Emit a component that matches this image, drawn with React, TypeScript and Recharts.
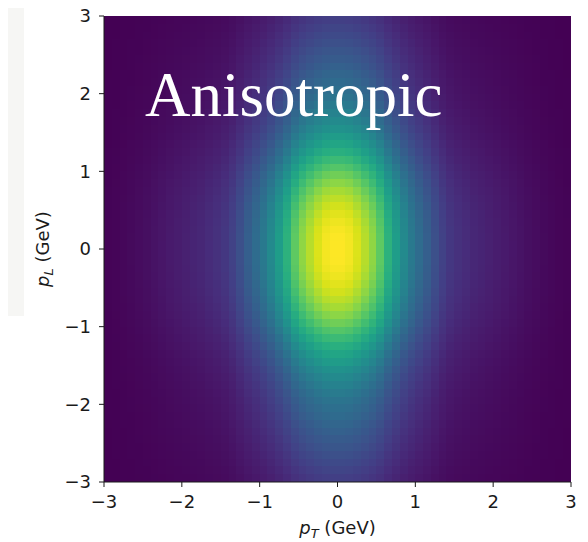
import React from 'react';
import { BarChart, Bar, XAxis, YAxis, Label } from 'recharts';

// Cell centres along p_T (GeV)
const pTCenters = [
  -2.95, -2.85, -2.75, -2.65, -2.55, -2.45, -2.35, -2.25, -2.15, -2.05,
  -1.95, -1.85, -1.75, -1.65, -1.55, -1.45, -1.35, -1.25, -1.15, -1.05,
  -0.95, -0.85, -0.75, -0.65, -0.55, -0.45, -0.35, -0.25, -0.15, -0.05,
  0.05, 0.15, 0.25, 0.35, 0.45, 0.55, 0.65, 0.75, 0.85, 0.95,
  1.05, 1.15, 1.25, 1.35, 1.45, 1.55, 1.65, 1.75, 1.85, 1.95,
  2.05, 2.15, 2.25, 2.35, 2.45, 2.55, 2.65, 2.75, 2.85, 2.95,
];

// Cell centres along p_L (GeV)
const pLCenters = [
  -2.95, -2.85, -2.75, -2.65, -2.55, -2.45, -2.35, -2.25, -2.15, -2.05,
  -1.95, -1.85, -1.75, -1.65, -1.55, -1.45, -1.35, -1.25, -1.15, -1.05,
  -0.95, -0.85, -0.75, -0.65, -0.55, -0.45, -0.35, -0.25, -0.15, -0.05,
  0.05, 0.15, 0.25, 0.35, 0.45, 0.55, 0.65, 0.75, 0.85, 0.95,
  1.05, 1.15, 1.25, 1.35, 1.45, 1.55, 1.65, 1.75, 1.85, 1.95,
  2.05, 2.15, 2.25, 2.35, 2.45, 2.55, 2.65, 2.75, 2.85, 2.95,
];

// Relative intensity profile read along p_T (at p_L = 0)
const pTProfile = [
  0.01, 0.014, 0.019, 0.025, 0.032, 0.04, 0.05, 0.06, 0.07, 0.08,
  0.09, 0.10, 0.11, 0.125, 0.14, 0.16, 0.195, 0.245, 0.30, 0.35,
  0.405, 0.47, 0.55, 0.64, 0.75, 0.83, 0.89, 0.945, 0.985, 1.0,
  1.0, 0.985, 0.945, 0.89, 0.83, 0.75, 0.64, 0.55, 0.47, 0.405,
  0.35, 0.30, 0.245, 0.195, 0.16, 0.14, 0.125, 0.11, 0.10, 0.09,
  0.08, 0.07, 0.06, 0.05, 0.04, 0.032, 0.025, 0.019, 0.014, 0.01,
];

// Relative intensity profile read along p_L (at p_T = 0)
const pLProfile = [
  0.185, 0.205, 0.225, 0.245, 0.265, 0.285, 0.305, 0.325, 0.345, 0.365,
  0.385, 0.41, 0.44, 0.47, 0.505, 0.545, 0.585, 0.63, 0.68, 0.73,
  0.78, 0.825, 0.865, 0.9, 0.93, 0.955, 0.975, 0.99, 0.998, 1.0,
  1.0, 0.998, 0.99, 0.975, 0.955, 0.93, 0.9, 0.865, 0.825, 0.78,
  0.73, 0.68, 0.63, 0.585, 0.545, 0.505, 0.47, 0.44, 0.41, 0.385,
  0.365, 0.345, 0.325, 0.305, 0.285, 0.265, 0.245, 0.225, 0.205, 0.185,
];

const axisTicks = [-3, -2, -1, 0, 1, 2, 3];
const axisDomain: [number, number] = [-3, 3];
const cellHeight = 0.1;
const titleText = 'Anisotropic';

const viridisStops = [
  '#440154', '#48186a', '#472d7b', '#424086', '#3b528b', '#33638d',
  '#2c728e', '#26828e', '#21918c', '#1fa088', '#28ae80', '#3fbc73',
  '#5ec962', '#84d44b', '#addc30', '#d8e219', '#fde725',
];

function hexToRgb(h: string) {
  return [parseInt(h.slice(1, 3), 16), parseInt(h.slice(3, 5), 16), parseInt(h.slice(5, 7), 16)];
}
const stopRgb = viridisStops.map(hexToRgb);

function viridis(t: number) {
  const c = Math.max(0, Math.min(1, t)) * (stopRgb.length - 1);
  const i = Math.min(Math.floor(c), stopRgb.length - 2);
  const f = c - i;
  const a = stopRgb[i];
  const b = stopRgb[i + 1];
  const rgb = a.map((v, k) => Math.round(v + (b[k] - v) * f));
  return `rgb(${rgb[0]},${rgb[1]},${rgb[2]})`;
}

const intensity = pTProfile.map((a) => pLProfile.map((b) => a * b));
const flatVals = intensity.flat();
const vMin = Math.min(...flatVals);
const vMax = Math.max(...flatVals);
const cellColors = intensity.map((row) => row.map((v) => viridis((v - vMin) / (vMax - vMin))));

const rows = pTCenters.map((pT, i) => {
  const r: Record<string, number> = { pT, i };
  pLCenters.forEach((pL, j) => {
    r[`c${j}`] = pL > 0 ? cellHeight : -cellHeight;
  });
  return r;
});

const posSeries = pLCenters.map((_, j) => j).filter((j) => pLCenters[j] > 0);
const negSeries = pLCenters.map((_, j) => j).filter((j) => pLCenters[j] < 0).reverse();
const seriesOrder = [...posSeries, ...negSeries];

const ink = '#1a1a1a';
const tickFont = { fill: ink, fontSize: 18, fontFamily: 'DejaVu Sans' };
const fmt = (v: number) => (v < 0 ? `\u2212${Math.abs(v)}` : String(v));

const XLabel = (props: any) => {
  const vb = props.viewBox || { x: 0, y: 0, width: 0, height: 0 };
  return (
    <text x={vb.x + vb.width / 2} y={vb.y + 52} textAnchor="middle" fill={ink} fontSize={18} fontFamily="DejaVu Sans">
      <tspan fontStyle="italic">p</tspan>
      <tspan fontStyle="italic" fontSize={13} dy={4}>T</tspan>
      <tspan dy={-4}> (GeV)</tspan>
    </text>
  );
};

const YLabel = (props: any) => {
  const vb = props.viewBox || { x: 0, y: 0, width: 0, height: 0 };
  const cx = vb.x + 41;
  const cy = vb.y + vb.height / 2;
  return (
    <text x={cx} y={cy} transform={`rotate(-90 ${cx} ${cy})`} textAnchor="middle" fill={ink} fontSize={18} fontFamily="DejaVu Sans">
      <tspan fontStyle="italic">p</tspan>
      <tspan fontStyle="italic" fontSize={13} dy={4}>L</tspan>
      <tspan dy={-4}> (GeV)</tspan>
    </text>
  );
};

export default function App() {
  return (
    <div style={{ position: 'relative', width: 580, height: 534 }}>
      <BarChart
        width={580}
        height={534}
        data={rows}
        margin={{ top: 8, right: 17, bottom: 30, left: 0 }}
        barCategoryGap={0}
        barGap={0}
        stackOffset="sign"
      >
        {seriesOrder.map((j) => (
          <Bar
            key={j}
            dataKey={`c${j}`}
            stackId="cells"
            xAxisId="num"
            yAxisId="main"
            isAnimationActive={false}
            shape={(p: any) => {
              const y = Math.min(p.y, p.y + p.height);
              const h = Math.abs(p.height);
              const x = Math.min(p.x, p.x + p.width);
              const idx = p.payload ? p.payload.i : p.index;
              return (
                <rect x={x} y={y} width={Math.abs(p.width)} height={h} fill={cellColors[idx][j]} shapeRendering="crispEdges" />
              );
            }}
          />
        ))}
        <XAxis
          xAxisId="num"
          dataKey="pT"
          type="number"
          domain={axisDomain}
          allowDataOverflow
          ticks={axisTicks}
          interval={0}
          height={30}
          tickSize={5}
          tickMargin={8}
          tick={tickFont}
          tickFormatter={fmt}
          axisLine={{ stroke: ink }}
          tickLine={{ stroke: ink }}
        >
          <Label content={XLabel} />
        </XAxis>
        <XAxis
          xAxisId="top"
          orientation="top"
          type="number"
          domain={axisDomain}
          allowDataOverflow
          height={0}
          tick={false}
          tickLine={false}
          axisLine={{ stroke: ink }}
        />
        <YAxis
          yAxisId="main"
          type="number"
          domain={axisDomain}
          allowDataOverflow
          ticks={axisTicks}
          interval={0}
          width={96}
          tickSize={5}
          tickMargin={8}
          tick={tickFont}
          tickFormatter={fmt}
          axisLine={{ stroke: ink }}
          tickLine={{ stroke: ink }}
        >
          <Label content={YLabel} />
        </YAxis>
        <YAxis
          yAxisId="right"
          orientation="right"
          type="number"
          domain={axisDomain}
          allowDataOverflow
          width={0}
          tick={false}
          tickLine={false}
          axisLine={{ stroke: ink }}
        />
      </BarChart>
      <svg
        width={588}
        height={542}
        style={{ position: 'absolute', left: -8, top: -8, pointerEvents: 'none' }}
      >
        <rect x={0} y={0} width={24} height={316} fill="#f6f6f4" />
        <circle cx={4} cy={527} r={2.2} fill="#111" />
        <text x={145} y={116} fill="#ffffff" fontSize={63} fontFamily="Liberation Serif">
          {titleText}
        </text>
      </svg>
    </div>
  );
}
